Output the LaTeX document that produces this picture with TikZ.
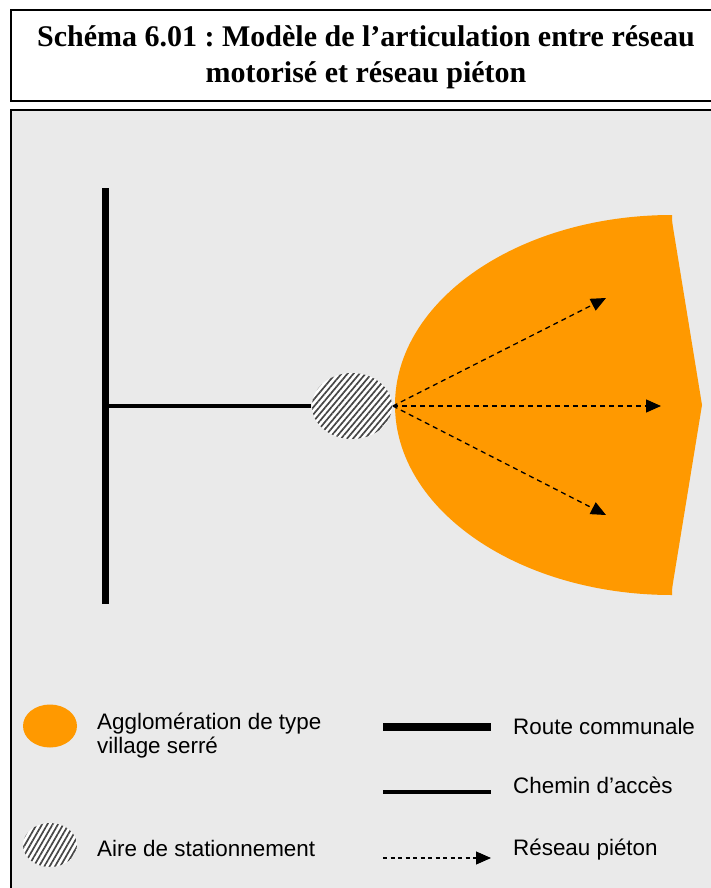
\documentclass[tikz,border=0pt]{standalone}
\usepackage{fontspec}
\setmainfont{Liberation Serif}
\newfontfamily\legendfont{Liberation Sans}
\usetikzlibrary{arrows.meta,patterns.meta,shapes.geometric}
\definecolor{villageorange}{RGB}{255,153,0}
\definecolor{panelgray}{RGB}{234,234,234}
\definecolor{hatchgray}{RGB}{70,70,70}
\frenchspacing
\begin{document}
\begin{tikzpicture}[x=1pt,y=-1pt,
  frame/.style={draw=black,line width=2pt},
  road/.style={line width=7.5pt},
  accessway/.style={line width=3.5pt},
  footpath/.style={dash pattern=on 5pt off 4pt,line width=1.3pt,-{Triangle[length=15pt,width=13pt]}},
  parking/.style={ellipse,draw=none,inner sep=0pt,preaction={fill=white},
    pattern={Lines[angle=#1,distance=4.6pt,line width=1.7pt]},pattern color=hatchgray},
  parking/.default=50,
  legtext/.style={font=\legendfont\fontsize{22.4}{24}\selectfont,anchor=base west,inner sep=0pt},
  titletext/.style={font=\bfseries\fontsize{30}{36}\selectfont,anchor=base,inner sep=0pt}
]
\useasboundingbox (0,0) rectangle (711,888);
% title box
\draw[frame,fill=white] (11,10) rectangle (740,101);
\node[titletext] (title1) at (366,47) {Schéma 6.01 : Modèle de l’articulation entre réseau};
\node[titletext] (title2) at (366,83) {motorisé et réseau piéton};
% main panel
\draw[frame,fill=panelgray] (11,110) rectangle (740,900);
% village (orange)
\begin{scope}
  \clip (300,100) -- (672,100) -- (672,710) -- (300,710) -- cycle;
  \fill[villageorange] (672,405) ellipse [x radius=277, y radius=190];
\end{scope}
\fill[villageorange] (671,215) -- (702,405) -- (671,595) -- cycle;
% road and access
\coordinate (routetop) at (105.5,188);
\coordinate (routebot) at (105.5,604);
\coordinate (junction) at (109,406);
\draw[road] (routetop) -- (routebot);
\node[parking,minimum width=80pt,minimum height=66pt] (park) at (352,406) {};
\draw[accessway] (junction) -- (park.west);
% pedestrian network
\coordinate (ptop) at (606,298);
\coordinate (pmid) at (661,406);
\coordinate (pbot) at (606,515);
\draw[footpath] (park.east) -- (ptop);
\draw[footpath] (park.east) -- (pmid);
\draw[footpath] (park.east) -- (pbot);
% legend
\node[ellipse,fill=villageorange,draw=none,inner sep=0pt,minimum width=54pt,minimum height=43pt] (legvillage) at (50,726) {};
\node[legtext] (legvillagetxt) at (97,729) {Agglomération de type};
\node[legtext] (legvillagetxtb) at (97,753) {village serré};
\node[parking=60,minimum width=54pt,minimum height=44pt] (legpark) at (50,845) {};
\node[legtext] (legparktxt) at (97,856) {Aire de stationnement};
\coordinate (legroada) at (383,726.5);
\coordinate (legroadb) at (491,726.5);
\draw[road,line width=8pt] (legroada) -- (legroadb);
\node[legtext] (legroadtxt) at (513,734) {Route communale};
\coordinate (legaccessa) at (383,792);
\coordinate (legaccessb) at (491,792);
\draw[accessway] (legaccessa) -- (legaccessb);
\node[legtext] (legaccesstxt) at (513,793) {Chemin d’accès};
\coordinate (legfoota) at (383,858);
\coordinate (legfootb) at (491,858);
\draw[footpath,line width=1.1pt,dash pattern=on 4pt off 3.5pt] (legfoota) -- (legfootb);
\node[legtext] (legfoottxt) at (513,855) {Réseau piéton};
\end{tikzpicture}
\end{document}
